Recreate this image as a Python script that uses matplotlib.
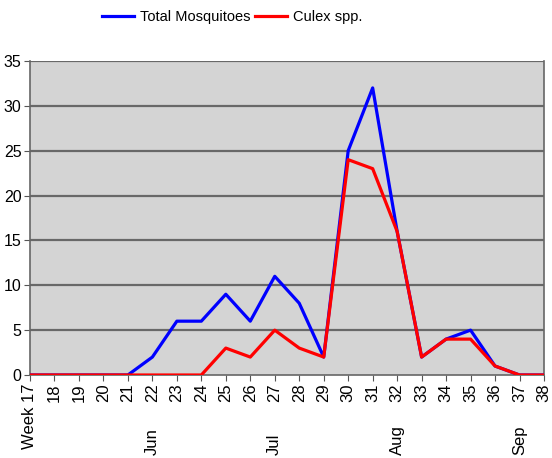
import matplotlib
matplotlib.use("Agg")
import matplotlib.pyplot as plt

# weekly trap counts
weeks = list(range(17, 39))
total = [0, 0, 0, 0, 0, 2, 6, 6, 9, 6, 11, 8, 2, 25, 32, 16, 2, 4, 5, 1, 0, 0]
culex = [0, 0, 0, 0, 0, 0, 0, 0, 3, 2, 5, 3, 2, 24, 23, 16, 2, 4, 4, 1, 0, 0]
week_labels = ["Week 17"] + [str(w) for w in weeks[1:]]
month_weeks = [22, 27, 32, 37]
month_names = ["Jun", "Jul", "Aug", "Sep"]

plt.rcParams["font.family"] = ["Liberation Sans", "DejaVu Sans"]

fig = plt.figure(figsize=(5.52, 4.58), dpi=100)
ax = fig.add_axes([30 / 552, 1 - 375 / 458, 514 / 552, 314 / 458])
ax.set_facecolor("#d4d4d4")

for y in range(5, 36, 5):
    ax.axhline(y, color="#686868", lw=1.6, zorder=1)

ax.plot(weeks, total, color="#0000ff", lw=2.3, label="Total Mosquitoes", zorder=3)
ax.plot(weeks, culex, color="#ff0000", lw=2.3, label="Culex spp.", zorder=4)

ax.set_xlim(17, 38)
ax.set_ylim(0, 35)
ax.set_yticks(range(0, 36, 5))
ax.set_xticks(weeks)
ax.set_xticklabels(week_labels, rotation=90, fontsize=12)
ax.tick_params(axis="y", labelsize=11.5, length=4, pad=2, color="#555555")
ax.tick_params(axis="x", length=4, pad=2, color="#555555")

for s in ["left", "bottom", "right"]:
    ax.spines[s].set_color("#666666")
    ax.spines[s].set_linewidth(1.2)
ax.spines["top"].set_visible(False)

# month markers under the week labels
for w, m in zip(month_weeks, month_names):
    ax.text(w, -0.255, m, transform=ax.get_xaxis_transform(), rotation=90,
            ha="center", va="bottom", fontsize=12)

fig.legend(loc="center", bbox_to_anchor=(232 / 552, 1 - 17 / 458), ncol=2,
           frameon=False, fontsize=10.5, handlelength=2.2, columnspacing=0.35,
           handletextpad=0.4)

fig.savefig("out.png", dpi=100)
